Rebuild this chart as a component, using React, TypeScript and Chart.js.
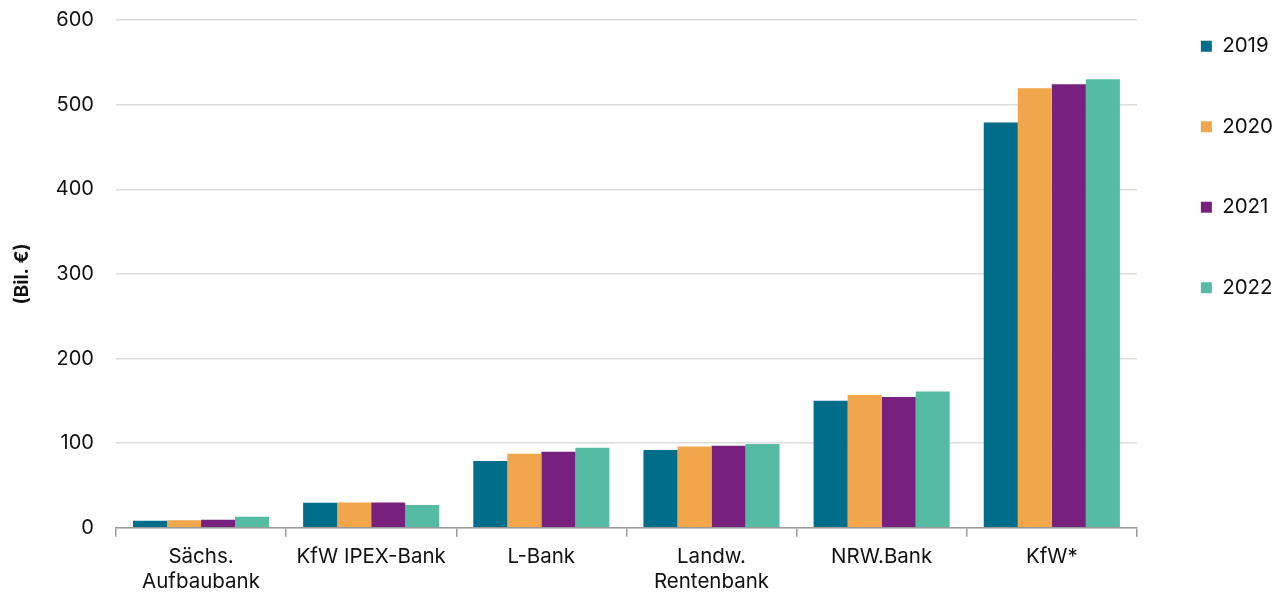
import React, { useEffect, useRef } from "react";
import { Chart, registerables } from "chart.js";
Chart.register(...registerables);

const categories: (string | string[])[] = [
  ["Sächs.", "Aufbaubank"],
  "KfW IPEX-Bank",
  "L-Bank",
  ["Landw.", "Rentenbank"],
  "NRW.Bank",
  "KfW*",
];
const years = ["2019", "2020", "2021", "2022"];
const v2019 = [8.3, 29.6, 79, 92, 150, 479];
const v2020 = [9, 30, 87.5, 96, 157, 519.5];
const v2021 = [9.5, 30, 90, 97, 154.5, 524];
const v2022 = [13, 27, 94.7, 99, 161, 530];
const colors = ["#006e8a", "#f1a64b", "#78207e", "#55bba3"];
const yTicks = [0, 100, 200, 300, 400, 500, 600];

const FONT = "Inter, 'Noto Sans', sans-serif";

const legendShift = {
  id: "legendShift",
  afterLayout(chart: any) {
    const lg = chart.legend;
    if (!lg) return;
    lg.top -= 10;
    lg.left += 4;
    lg.right += 4;
  },
};

export default function App() {
  const ref = useRef<HTMLCanvasElement>(null);
  useEffect(() => {
    document.body.style.margin = "0";
    const series = [v2019, v2020, v2021, v2022];
    const chart = new Chart(ref.current!, {
      type: "bar",
      data: {
        labels: categories,
        datasets: years.map((y, i) => ({
          label: y,
          data: series[i],
          backgroundColor: colors[i],
          categoryPercentage: 0.8,
          barPercentage: 1.0,
        })),
      },
      plugins: [legendShift],
      options: {
        animation: false,
        responsive: true,
        maintainAspectRatio: false,
        layout: { padding: { top: 0, right: -2, left: 11, bottom: -10 } },
        plugins: {
          tooltip: { enabled: false },
          legend: {
            position: "right",
            align: "start",
            labels: {
              boxWidth: 11,
              boxHeight: 11,
              padding: 60,
              color: "#111",
              font: { family: FONT, size: 20.5 },
            },
          },
        },
        scales: {
          x: {
            grid: {
              offset: true,
              drawOnChartArea: false,
              tickLength: 9,
              color: "#999",
              lineWidth: 1.5,
            },
            border: { color: "#999", width: 1.5 },
            ticks: {
              color: "#111",
              font: { family: FONT, size: 20.5 },
              padding: 8,
              maxRotation: 0,
            },
          },
          y: {
            min: 0,
            max: 600,
            afterBuildTicks: (axis: any) => {
              axis.ticks = yTicks.map((v) => ({ value: v }));
            },
            grid: {
              color: "#dcdcdc",
              lineWidth: 1.5,
              drawTicks: false,
            },
            border: { display: false },
            ticks: {
              color: "#111",
              font: { family: FONT, size: 20 },
              padding: 22,
            },
            title: {
              display: true,
              text: "(Bil. €)",
              color: "#111",
              font: { family: FONT, size: 19, weight: "bold" },
              padding: { top: 0, bottom: 0 },
            },
          },
        },
      },
    });
    return () => chart.destroy();
  }, []);
  return (
    <div style={{ position: "absolute", left: 0, top: -14, width: 1277, height: 606 }}>
      <canvas ref={ref} />
    </div>
  );
}
